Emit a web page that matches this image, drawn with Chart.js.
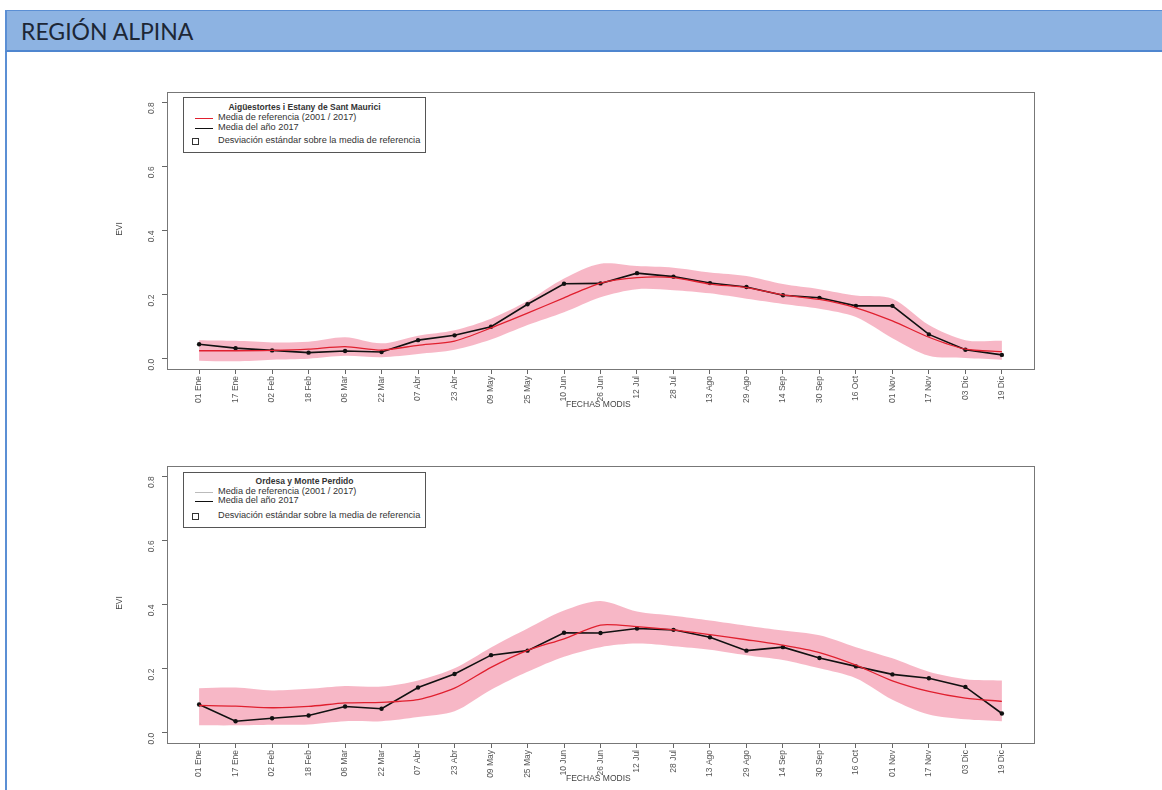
<!DOCTYPE html>
<html>
<head>
<meta charset="utf-8">
<script src="https://cdn.jsdelivr.net/npm/chart.js@4.4.1/dist/chart.umd.min.js"></script>
<style>
  body { margin: 0; background: #fff; width: 1162px; height: 790px; position: relative; overflow: hidden; font-family: "Liberation Sans", Arial, sans-serif; }
  #cabecera { position: absolute; left: 5px; top: 10px; width: 1157px; height: 39px; background: #8DB3E2;
              border-top: 1px solid #5B8FD4; border-bottom: 2px solid #4F86CF; border-left: 2px solid #5B8FD4; }
  #cabecera span { position: absolute; left: 14px; top: 6px; font-family: Lato, "Open Sans", sans-serif; font-size: 23px; color: #1d2736; }
  #borde { position: absolute; left: 5px; top: 10px; width: 2px; height: 780px; background: #5B8FD4; }
  canvas { position: absolute; }
  .leyenda { position: absolute; left: 183px; width: 241px; border: 1px solid #555; background: #fff; font-size: 9.2px; color: #333; }
  .leyenda .tit { position: absolute; left: 0; width: 100%; text-align: center; font-weight: bold; font-size: 8.5px; }
  .leyenda .it { position: absolute; left: 34px; white-space: nowrap; }
  .leyenda .ln { position: absolute; left: 11px; width: 18px; height: 1px; }
  .leyenda .sq { position: absolute; left: 8px; width: 5px; height: 5px; border: 1px solid #333; }
  .evi { position: absolute; font-size: 8.5px; color: #444; transform: rotate(-90deg); }
  .fechas { position: absolute; font-size: 8.5px; color: #444; }
</style>
</head>
<body>
<div id="borde"></div>
<div id="cabecera"><span>REGIÓN ALPINA</span></div>

<canvas id="g1" style="left:110px; top:85px;" width="940" height="329"></canvas>
<canvas id="g2" style="left:110px; top:459px;" width="940" height="329"></canvas>

<div class="leyenda" style="top:97px; height:54px;">
  <div class="tit" style="top:4px;">Aigüestortes i Estany de Sant Maurici</div>
  <div class="ln" style="top:20px; background:#e0202f;"></div>
  <div class="it" style="top:14px;">Media de referencia (2001 / 2017)</div>
  <div class="ln" style="top:30px; background:#111;"></div>
  <div class="it" style="top:24px;">Media del año 2017</div>
  <div class="sq" style="top:40px;"></div>
  <div class="it" style="top:37px;">Desviación estándar sobre la media de referencia</div>
</div>

<div class="leyenda" style="top:472px; height:54px;">
  <div class="tit" style="top:3px;">Ordesa y Monte Perdido</div>
  <div class="ln" style="top:19px; background:#bbb;"></div>
  <div class="it" style="top:13px;">Media de referencia (2001 / 2017)</div>
  <div class="ln" style="top:28px; background:#111;"></div>
  <div class="it" style="top:22px;">Media del año 2017</div>
  <div class="sq" style="top:40px;"></div>
  <div class="it" style="top:37px;">Desviación estándar sobre la media de referencia</div>
</div>

<div class="evi" style="left:112px; top:224px;">EVI</div>
<div class="evi" style="left:112px; top:598px;">EVI</div>
<div class="fechas" style="left:566px; top:399px;">FECHAS MODIS</div>
<div class="fechas" style="left:566px; top:773px;">FECHAS MODIS</div>

<script>
const fechas = ['01 Ene', '17 Ene', '02 Feb', '18 Feb', '06 Mar', '22 Mar', '07 Abr', '23 Abr',
    '09 May', '25 May', '10 Jun', '26 Jun', '12 Jul', '28 Jul', '13 Ago', '29 Ago',
    '14 Sep', '30 Sep', '16 Oct', '01 Nov', '17 Nov', '03 Dic', '19 Dic'];
const yTicks = [0, 0.2, 0.4, 0.6, 0.8];

// Aigüestortes i Estany de Sant Maurici
const anio1 = [0.045, 0.033, 0.026, 0.019, 0.024, 0.021, 0.058, 0.073, 0.100, 0.170, 0.234, 0.235,
    0.267, 0.256, 0.236, 0.224, 0.198, 0.190, 0.165, 0.165, 0.076, 0.028, 0.012];
const ref1 = [0.025, 0.025, 0.026, 0.030, 0.038, 0.027, 0.042, 0.055, 0.096, 0.142, 0.190, 0.236,
    0.253, 0.253, 0.233, 0.222, 0.199, 0.185, 0.159, 0.118, 0.067, 0.030, 0.022];
const sup1 = [0.058, 0.056, 0.051, 0.053, 0.067, 0.048, 0.072, 0.089, 0.125, 0.180, 0.250, 0.296,
    0.289, 0.284, 0.269, 0.258, 0.233, 0.217, 0.197, 0.187, 0.105, 0.058, 0.056];
const inf1 = [-0.006, -0.008, -0.003, 0.000, 0.009, 0.005, 0.015, 0.028, 0.060, 0.105, 0.145, 0.192,
    0.217, 0.214, 0.204, 0.187, 0.171, 0.156, 0.130, 0.064, 0.009, 0.002, -0.003];

// Ordesa y Monte Perdido
const anio2 = [0.088, 0.036, 0.045, 0.054, 0.082, 0.075, 0.141, 0.183, 0.242, 0.256, 0.312, 0.311,
    0.325, 0.321, 0.298, 0.256, 0.267, 0.233, 0.207, 0.182, 0.170, 0.143, 0.060];
const ref2 = [0.085, 0.083, 0.078, 0.082, 0.093, 0.095, 0.103, 0.139, 0.204, 0.257, 0.293, 0.336,
    0.331, 0.321, 0.306, 0.290, 0.273, 0.250, 0.211, 0.162, 0.129, 0.108, 0.098];
const sup2 = [0.139, 0.141, 0.132, 0.137, 0.146, 0.144, 0.163, 0.201, 0.266, 0.325, 0.381, 0.411,
    0.378, 0.365, 0.350, 0.334, 0.319, 0.304, 0.267, 0.232, 0.190, 0.167, 0.163];
const inf2 = [0.023, 0.023, 0.025, 0.026, 0.036, 0.036, 0.049, 0.067, 0.134, 0.190, 0.237, 0.267,
    0.278, 0.270, 0.259, 0.242, 0.227, 0.201, 0.170, 0.103, 0.057, 0.042, 0.036];

const pts = arr => arr.map((v, i) => ({x: i, y: v}));

// caja del grafico estilo R
const caja = {
    id: 'caja',
    afterDraw(chart) {
        const a = chart.chartArea, c = chart.ctx;
        c.save();
        c.strokeStyle = '#777';
        c.lineWidth = 1;
        c.strokeRect(Math.round(a.left) + 0.5, Math.round(a.top) + 0.5, Math.round(a.right - a.left), Math.round(a.bottom - a.top));
        c.restore();
    }
};

// tamaños fijos de los ejes, sin relleno extra
function fijar(s, w, h) {
    if (w) s.width = w;
    if (h) s.height = h;
    s.paddingTop = 0; s.paddingBottom = 0; s.paddingLeft = 0; s.paddingRight = 0;
}

function grafico(id, ref, anio, sup, inf) {
    return new Chart(document.getElementById(id), {
        type: 'line',
        data: {
            datasets: [
                {data: pts(sup), borderWidth: 0, pointRadius: 0, tension: 0.3, fill: '+1', backgroundColor: 'rgba(246,170,188,0.85)'},
                {data: pts(inf), borderWidth: 0, pointRadius: 0, tension: 0.3, fill: false},
                {data: pts(ref), borderColor: '#e0202f', borderWidth: 1.3, pointRadius: 0, tension: 0.25, fill: false},
                {data: pts(anio), borderColor: '#111', borderWidth: 1.6, pointRadius: 2.2, pointBackgroundColor: '#111', pointBorderWidth: 0, tension: 0, fill: false}
            ]
        },
        options: {
            responsive: false,
            animation: false,
            events: [],
            layout: {padding: {top: 7, right: 16, left: 0, bottom: 0}},
            plugins: {legend: {display: false}, tooltip: {enabled: false}, filler: {drawTime: 'beforeDatasetsDraw'}},
            scales: {
                x: {
                    type: 'linear',
                    min: -0.88,
                    max: 22.88,
                    afterBuildTicks: s => { s.ticks = fechas.map((f, i) => ({value: i})); },
                    afterFit: s => fijar(s, 0, 45),
                    border: {display: false},
                    grid: {drawOnChartArea: false, drawTicks: true, tickLength: 5, color: '#666'},
                    ticks: {
                        autoSkip: false, minRotation: 90, maxRotation: 90, padding: 2,
                        color: '#555', font: {size: 8.5, family: '"Liberation Sans", Arial'},
                        callback: v => fechas[v]
                    }
                },
                y: {
                    min: -0.032,
                    max: 0.832,
                    afterBuildTicks: s => { s.ticks = yTicks.map(v => ({value: v})); },
                    afterFit: s => fijar(s, 57, 0),
                    border: {display: false},
                    grid: {drawOnChartArea: false, drawTicks: true, tickLength: 5, color: '#666'},
                    ticks: {
                        minRotation: 90, maxRotation: 90, padding: 10,
                        color: '#555', font: {size: 8.5, family: '"Liberation Sans", Arial'},
                        callback: v => v.toFixed(1)
                    }
                }
            }
        },
        plugins: [caja]
    });
}

grafico('g1', ref1, anio1, sup1, inf1);
grafico('g2', ref2, anio2, sup2, inf2);
</script>
</body>
</html>
